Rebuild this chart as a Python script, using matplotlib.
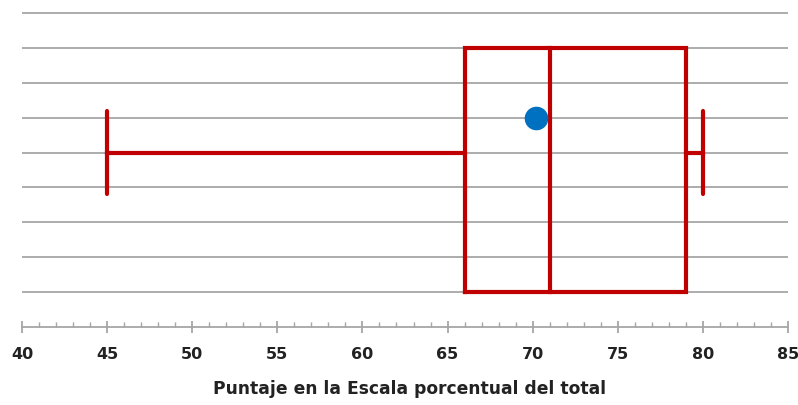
import matplotlib
matplotlib.use("Agg")
import matplotlib.pyplot as plt
from matplotlib.ticker import MultipleLocator

# Data
whisker_min = 45
q1 = 66
median = 71
q3 = 79
whisker_max = 80
mean = 70.2

xlabel = "Puntaje en la Escala porcentual del total"
xticks = [40, 45, 50, 55, 60, 65, 70, 75, 80, 85]

red = "#C00000"
blue = "#0070C0"
grid_c = "#A6A6A6"
font = 'DejaVu Sans'

fig = plt.figure(figsize=(7.98, 4.05), dpi=100)
ax = fig.add_axes([22/798, 1-327/405, 766/798, 327/405])
ax.set_xlim(40, 85)
ax.set_ylim(0, 327/34.89)

# horizontal gridlines
for yv in range(1, 10):
    ax.axhline(yv, color=grid_c, lw=1.3, zorder=1)

lw = 3.0
# box
ax.plot([q1, q3, q3, q1, q1], [1, 1, 8, 8, 1], color=red, lw=lw, zorder=3,
        solid_joinstyle='miter')
ax.plot([median, median], [1, 8], color=red, lw=lw, zorder=3)
# whiskers
ax.plot([whisker_min, q1], [5, 5], color=red, lw=lw, zorder=3)
ax.plot([q3, whisker_max], [5, 5], color=red, lw=lw, zorder=3)
ax.plot([whisker_min, whisker_min], [3.8, 6.2], color=red, lw=lw, zorder=3,
        solid_capstyle='round')
ax.plot([whisker_max, whisker_max], [3.8, 6.2], color=red, lw=lw, zorder=3,
        solid_capstyle='round')
# mean
ax.plot([mean], [6], 'o', color=blue, markersize=17, zorder=4, markeredgewidth=0)

for s in ['top', 'right', 'left']:
    ax.spines[s].set_visible(False)
ax.spines['bottom'].set_color(grid_c)
ax.spines['bottom'].set_linewidth(1.3)
ax.set_yticks([])
ax.set_xticks(xticks, [str(t) for t in xticks], fontweight='bold',
              fontsize=11.5, family=font, color='#222222')
ax.xaxis.set_minor_locator(MultipleLocator(1))
ax.tick_params(axis='x', which='major', direction='inout', length=9, width=1.3,
               color=grid_c, pad=10)
ax.tick_params(axis='x', which='minor', direction='in', length=3.5, width=1.0,
               color=grid_c)

fig.text(410/798, 1-389/405, xlabel, ha='center', va='center',
         fontsize=12.3, fontweight='bold', family=font, color='#222222')

fig.savefig("out.png", dpi=100)
